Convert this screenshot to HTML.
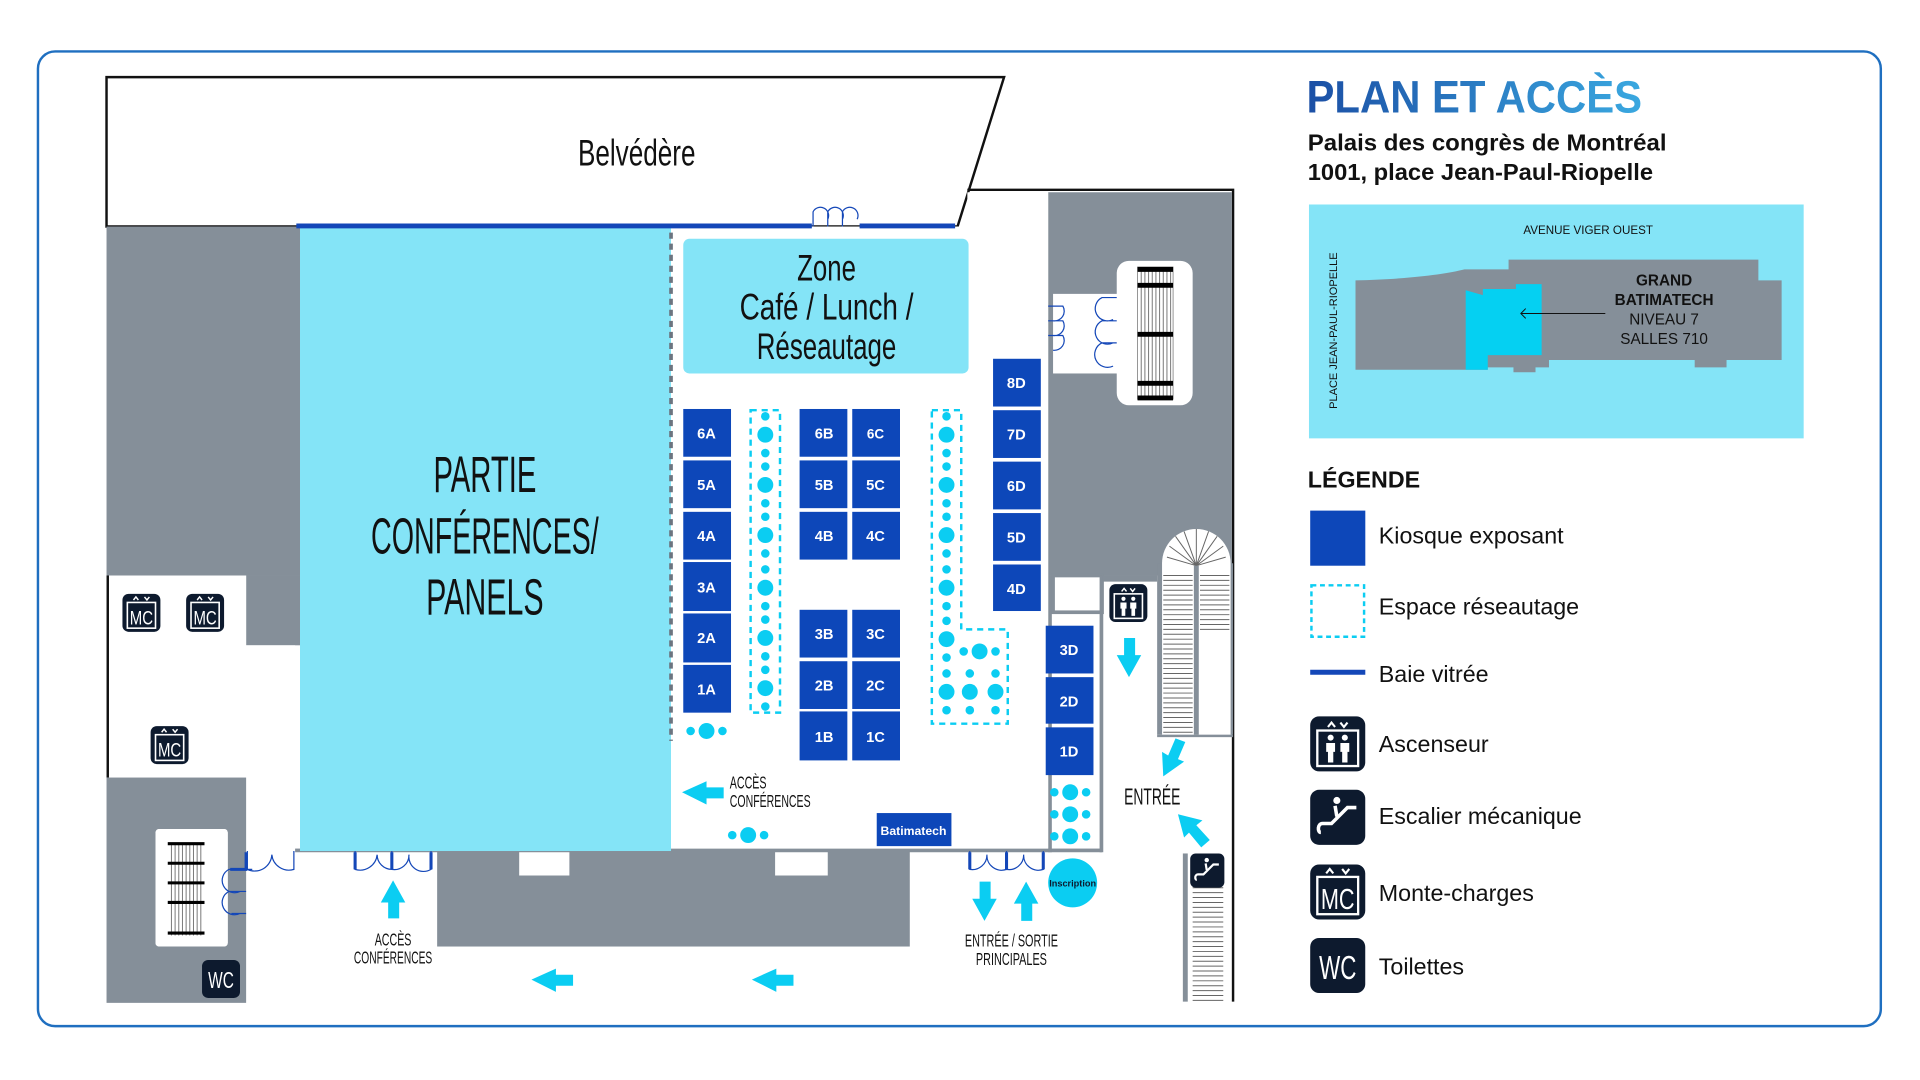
<!DOCTYPE html>
<html><head><meta charset="utf-8"><style>
html,body{margin:0;padding:0;background:#fff;}
svg{display:block;}
.c{font-family:"Liberation Sans Narrow","Liberation Sans",sans-serif;fill:#111;}
.b{font-family:"Liberation Sans",sans-serif;font-weight:bold;fill:#fff;text-anchor:middle;}
.t{font-family:"Liberation Sans",sans-serif;}
</style></head><body>
<svg width="1920" height="1080" viewBox="0 0 1568 882" xmlns="http://www.w3.org/2000/svg">
<defs>
<linearGradient id="tg" x1="0" x2="1"><stop offset="0" stop-color="#1b4fa5"/><stop offset="1" stop-color="#3aa8e0"/></linearGradient>
<g id="mc"><rect x="0" y="0" width="31" height="31" rx="5" fill="#0d1a2e"/><rect x="4" y="7" width="23" height="21" fill="none" stroke="#fff" stroke-width="1.3"/><path d="M9 5 L11 2.5 L13 5 M18 2.5 L20 5 L22 2.5" stroke="#fff" stroke-width="1.2" fill="none"/><text x="15.5" y="25" class="c" font-size="16" fill="#fff" style="fill:#fff" text-anchor="middle" textLength="19" lengthAdjust="spacingAndGlyphs">MC</text></g>
<g id="el"><rect x="0" y="0" width="31" height="31" rx="5" fill="#0d1a2e"/><rect x="4" y="8" width="23" height="20" fill="none" stroke="#fff" stroke-width="1.3"/><path d="M10 6 L12 3.5 L14 6 M17 3.5 L19 6 L21 3.5" stroke="#fff" stroke-width="1.2" fill="none"/><circle cx="11.5" cy="12" r="1.7" fill="#fff"/><circle cx="19.5" cy="12" r="1.7" fill="#fff"/><path d="M9 15h5v5h-1v6h-3v-6h-1z M17 15h5v5h-1v6h-3v-6h-1z" fill="#fff"/></g>
<g id="es"><rect x="0" y="0" width="31" height="31" rx="5" fill="#0d1a2e"/><path d="M6 24 C4 24 4 19 7 19 L12 19 L21 10 L26 10" stroke="#fff" stroke-width="2" fill="none"/><circle cx="15" cy="6" r="2" fill="#fff"/><path d="M14 9 L15 15" stroke="#fff" stroke-width="2"/></g>
<g id="wc"><rect x="0" y="0" width="31" height="31" rx="5" fill="#0d1a2e"/><text x="15.5" y="23" class="c" font-size="19" style="fill:#fff" text-anchor="middle" textLength="21" lengthAdjust="spacingAndGlyphs">WC</text></g>
<g id="dg"><circle cx="0" cy="-15" r="3.5" fill="#0bcdf2"/><circle cx="0" cy="0" r="6.5" fill="#0bcdf2"/><circle cx="0" cy="15" r="3.5" fill="#0bcdf2"/></g>
<g id="dh"><circle cx="-13" cy="0" r="3.5" fill="#0bcdf2"/><circle cx="0" cy="0" r="6.5" fill="#0bcdf2"/><circle cx="13" cy="0" r="3.5" fill="#0bcdf2"/></g>
</defs>

<!-- outer frame -->
<rect x="31" y="42" width="1505" height="796" rx="14" fill="#fff" stroke="#1f6fc0" stroke-width="2"/>

<!-- Belvedere -->
<polygon points="87,63 820,63 782,185 87,185" fill="#fff" stroke="#111" stroke-width="2"/>
<polyline points="790,155 1007,155 1007,818" fill="none" stroke="#111" stroke-width="2"/>
<text x="520" y="135" class="c" font-size="30" text-anchor="middle" textLength="96" lengthAdjust="spacingAndGlyphs">Belvédère</text>

<!-- grey areas -->
<rect x="87" y="185" width="158" height="285" fill="#858f99"/>
<rect x="201" y="470" width="44" height="57" fill="#858f99"/>
<rect x="87" y="470" width="114" height="165" fill="#fff"/>
<rect x="87" y="527" width="154" height="170" fill="#fff"/>
<line x1="88" y1="470" x2="88" y2="635" stroke="#111" stroke-width="2"/>
<rect x="87" y="635" width="114" height="184" fill="#858f99"/>
<rect x="127" y="677" width="59" height="96" rx="3" fill="#fff"/>
<rect x="357" y="695" width="386" height="78" fill="#858f99"/>
<rect x="424" y="695" width="41" height="20" fill="#fff"/>
<rect x="633" y="695" width="43" height="20" fill="#fff"/>
<rect x="241" y="693" width="659" height="3" fill="#858f99"/>
<rect x="856" y="157" width="150" height="313" fill="#858f99"/>
<rect x="860" y="470" width="40" height="30" fill="#fff" stroke="#858f99" stroke-width="3"/>
<rect x="898" y="470" width="3" height="226" fill="#858f99"/>
<rect x="856" y="470" width="3" height="226" fill="#858f99"/>
<rect x="900" y="470" width="45" height="5" fill="#858f99"/>
<rect x="790" y="157" width="66" height="28" fill="#fff"/>

<!-- cyan conference -->
<rect x="245" y="185" width="303" height="510" fill="#84e4f7"/>
<rect x="548" y="185" width="308" height="508" fill="#fff"/>
<line x1="548" y1="190" x2="548" y2="605" stroke="#6b7580" stroke-width="3" stroke-dasharray="5,4"/>
<line x1="242" y1="184.5" x2="663" y2="184.5" stroke="#1447b8" stroke-width="4"/>
<line x1="702" y1="184.5" x2="780" y2="184.5" stroke="#1447b8" stroke-width="4"/>
<path d="M664 185 v-12 a6 6 0 0 1 12 6 M676 185 v-12 a6 6 0 0 1 12 6 M688 185 v-12 a6 6 0 0 1 12 6" stroke="#1447b8" stroke-width="1" fill="none"/>
<text x="396" y="402" class="c" font-size="42" text-anchor="middle" textLength="84" lengthAdjust="spacingAndGlyphs">PARTIE</text>
<text x="396" y="452" class="c" font-size="42" text-anchor="middle" textLength="186" lengthAdjust="spacingAndGlyphs">CONFÉRENCES/</text>
<text x="396" y="502" class="c" font-size="42" text-anchor="middle" textLength="96" lengthAdjust="spacingAndGlyphs">PANELS</text>

<!-- Zone cafe -->
<rect x="558" y="195" width="233" height="110" rx="5" fill="#84e4f7"/>
<text x="675" y="229" class="c" font-size="30" text-anchor="middle" textLength="48" lengthAdjust="spacingAndGlyphs">Zone</text>
<text x="675" y="261" class="c" font-size="30" text-anchor="middle" textLength="142" lengthAdjust="spacingAndGlyphs">Café / Lunch /</text>
<text x="675" y="293" class="c" font-size="30" text-anchor="middle" textLength="114" lengthAdjust="spacingAndGlyphs">Réseautage</text>

<!-- right doors & escalator -->
<rect x="860" y="240" width="56" height="65" fill="#fff"/>
<rect x="912" y="213" width="62" height="118" rx="10" fill="#fff"/>
<g stroke="#1447b8" stroke-width="1" fill="none">
<path d="M856 250 h12 a8 8 0 0 1 -8 12 M856 262 h12 a8 8 0 0 1 -8 12 M856 274 h12 a8 8 0 0 1 -8 12"/>
<path d="M912 243 h-12 a9 9 0 0 0 9 18 M912 262 h-12 a9 9 0 0 0 9 18 M912 280 h-12 a9 9 0 0 0 9 19"/>
</g>
<g>
<rect x="929" y="218" width="29" height="108" fill="#fff" stroke="#555" stroke-width="0.5"/>
<path d="M932 218v108M935 218v108M938 218v108M941 218v108M944 218v108M947 218v108M950 218v108M953 218v108M956 218v108" stroke="#777" stroke-width="0.8"/>
<path d="M929 220h29M929 233h29M929 273h29M929 313h29M929 325h29" stroke="#000" stroke-width="4"/>
</g>
<rect x="127" y="677" width="59" height="96" rx="3" fill="#fff"/>
<g>
<rect x="137" y="688" width="30" height="76" fill="#fff"/>
<path d="M140 688v76M143 688v76M146 688v76M149 688v76M152 688v76M155 688v76M158 688v76M161 688v76M164 688v76" stroke="#777" stroke-width="0.8"/>
<path d="M137 689h30M137 705h30M137 721h30M137 737h30M137 762h30" stroke="#000" stroke-width="2.5"/>
</g>
<g stroke="#1447b8" stroke-width="1" fill="none">
<path d="M201 710 h-14 a9 9 0 0 0 9 18 M201 728 h-14 a9 9 0 0 0 9 18 M201 746 h-12"/>
<path d="M202 695 v15 h4 M202 710 a14 14 0 0 0 20 -12 a14 14 0 0 0 18 12 v-15"/>
<path d="M290 695 v15 a14 14 0 0 0 18 -12 a12 12 0 0 0 12 12 v-15 M320 710 a12 12 0 0 0 14 -12 a12 12 0 0 0 18 12 v-15"/>
<path d="M792 695 v15 a12 12 0 0 0 14 -12 a12 12 0 0 0 16 12 v-15 M822 710 a12 12 0 0 0 14 -12 a12 12 0 0 0 16 12 v-15"/>
</g>
<path d="M201 696v14M202 710h-14M290 696v14M320 696v14M352 696v14M792 696v14M822 696v14M852 696v14" stroke="#1447b8" stroke-width="2.5"/>

<!-- right escalators -->
<rect x="945" y="460" width="62" height="140" fill="#858f99"/>
<path d="M949 600 V460 a28 28 0 0 1 56 0 V600" fill="#fff"/>
<g stroke="#666" stroke-width="0.8">
<path d="M950 470h24M950 474h24M950 478h24M950 482h24M950 486h24M950 490h24M950 494h24M950 498h24M950 502h24M950 506h24M950 510h24M950 514h24M950 518h24M950 522h24M950 526h24M950 530h24M950 534h24M950 538h24M950 542h24M950 546h24M950 550h24M950 554h24M950 558h24M950 562h24M950 566h24M950 570h24M950 574h24M950 578h24M950 582h24M950 586h24M950 590h24M950 594h24M950 598h24"/>
<path d="M980 470h24M980 474h24M980 478h24M980 482h24M980 486h24M980 490h24M980 494h24M980 498h24M980 502h24M980 506h24M980 510h24M980 514h24"/>
<path d="M977 462 L953 455 M977 462 L955 446 M977 462 L960 438 M977 462 L967 434 M977 462 L977 432 M977 462 L987 434 M977 462 L994 438 M977 462 L999 446 M977 462 L1001 455"/>
</g>
<rect x="975" y="462" width="4" height="138" fill="#858f99"/>
<rect x="945" y="600" width="62" height="2" fill="#858f99"/>
<rect x="966" y="697" width="4" height="121" fill="#858f99"/>
<g stroke="#666" stroke-width="0.8"><path d="M974 725h25M974 729h25M974 733h25M974 737h25M974 741h25M974 745h25M974 749h25M974 753h25M974 757h25M974 761h25M974 765h25M974 769h25M974 773h25M974 777h25M974 781h25M974 785h25M974 789h25M974 793h25M974 797h25M974 801h25M974 805h25M974 809h25M974 813h25M974 817h25"/></g>

<!-- booths -->
<g fill="#0d47b9">
<rect x="558" y="334" width="39" height="39"/><rect x="558" y="376" width="39" height="39"/><rect x="558" y="418" width="39" height="39"/><rect x="558" y="459" width="39" height="40"/><rect x="558" y="501" width="39" height="40"/><rect x="558" y="543" width="39" height="39"/>
<rect x="653" y="334" width="39" height="39"/><rect x="696" y="334" width="39" height="39"/>
<rect x="653" y="376" width="39" height="39"/><rect x="696" y="376" width="39" height="39"/>
<rect x="653" y="418" width="39" height="39"/><rect x="696" y="418" width="39" height="39"/>
<rect x="653" y="498" width="39" height="39"/><rect x="696" y="498" width="39" height="39"/>
<rect x="653" y="540" width="39" height="39"/><rect x="696" y="540" width="39" height="39"/>
<rect x="653" y="581" width="39" height="40"/><rect x="696" y="581" width="39" height="40"/>
<rect x="811" y="293" width="39" height="39"/><rect x="811" y="335" width="39" height="39"/><rect x="811" y="377" width="39" height="39"/><rect x="811" y="419" width="39" height="39"/><rect x="811" y="461" width="39" height="38"/>
<rect x="854" y="511" width="39" height="39"/><rect x="854" y="553" width="39" height="38"/><rect x="854" y="594" width="39" height="39"/>
<rect x="716" y="664" width="61" height="27"/>
</g>
<g class="b" font-size="12">
<text x="577" y="358">6A</text><text x="577" y="400">5A</text><text x="577" y="442">4A</text><text x="577" y="484">3A</text><text x="577" y="525">2A</text><text x="577" y="567">1A</text>
<text x="673" y="358">6B</text><text x="715" y="358" font-size="11">6C</text>
<text x="673" y="400">5B</text><text x="715" y="400">5C</text>
<text x="673" y="442">4B</text><text x="715" y="442">4C</text>
<text x="673" y="522">3B</text><text x="715" y="522">3C</text>
<text x="673" y="564">2B</text><text x="715" y="564">2C</text>
<text x="673" y="606">1B</text><text x="715" y="606">1C</text>
<text x="830" y="317">8D</text><text x="830" y="359">7D</text><text x="830" y="401">6D</text><text x="830" y="443">5D</text><text x="830" y="485">4D</text>
<text x="873" y="535">3D</text><text x="873" y="577">2D</text><text x="873" y="618">1D</text>
<text x="746" y="682" font-size="10">Batimatech</text>
</g>

<!-- networking strips -->
<rect x="613" y="335" width="24" height="247" fill="none" stroke="#0bcdf2" stroke-width="2" stroke-dasharray="5,4"/>
<polygon points="761,335 785,335 785,514 823,514 823,591 761,591" fill="none" stroke="#0bcdf2" stroke-width="2" stroke-dasharray="5,4"/>
<use href="#dg" x="625" y="355"/><use href="#dg" x="625" y="396"/><use href="#dg" x="625" y="437"/><use href="#dg" x="625" y="480"/><use href="#dg" x="625" y="521"/><use href="#dg" x="625" y="562"/>
<use href="#dg" x="773" y="355"/><use href="#dg" x="773" y="396"/><use href="#dg" x="773" y="437"/><use href="#dg" x="773" y="480"/><use href="#dg" x="773" y="522"/>
<use href="#dh" x="800" y="532"/>
<use href="#dg" x="773" y="565"/><use href="#dg" x="792" y="565"/><use href="#dg" x="813" y="565"/>
<use href="#dh" x="577" y="597"/><use href="#dh" x="611" y="682"/>
<use href="#dh" x="874" y="647"/><use href="#dh" x="874" y="665"/><use href="#dh" x="874" y="683"/>
<circle cx="876" cy="721" r="20" fill="#0bcdf2"/>
<text x="876" y="724" class="t" font-size="7.5" font-weight="bold" text-anchor="middle" fill="#0d1a2e">Inscription</text>

<!-- arrows -->
<g fill="#0bcdf2">
<polygon points="557,647 577,638 577,643 591,643 591,652 577,652 577,657"/>
<polygon points="434,800 454,791 454,796 468,796 468,805 454,805 454,810"/>
<polygon points="614,800 634,791 634,796 648,796 648,805 634,805 634,810"/>
<polygon points="321,719 311,737 317,737 317,750 326,750 326,737 331,737"/>
<polygon points="804,752 794,734 800,734 800,720 809,720 809,734 814,734"/>
<polygon points="838,720 828,738 834,738 834,752 843,752 843,738 848,738"/>
<polygon points="922,553 912,535 918,535 918,521 927,521 927,535 932,535"/>
<polygon points="950,634 949,614 954,617 960,603 968,606 962,620 967,622"/>
<polygon points="962,665 982,670 977,674 988,686 981,692 971,680 967,684"/>
</g>
<text x="596" y="644" class="c" font-size="14" textLength="30" lengthAdjust="spacingAndGlyphs">ACCÈS</text>
<text x="596" y="659" class="c" font-size="14" textLength="66" lengthAdjust="spacingAndGlyphs">CONFÉRENCES</text>
<text x="321" y="772" class="c" font-size="14" text-anchor="middle" textLength="30" lengthAdjust="spacingAndGlyphs">ACCÈS</text>
<text x="321" y="787" class="c" font-size="14" text-anchor="middle" textLength="64" lengthAdjust="spacingAndGlyphs">CONFÉRENCES</text>
<text x="826" y="773" class="c" font-size="14" text-anchor="middle" textLength="76" lengthAdjust="spacingAndGlyphs">ENTRÉE / SORTIE</text>
<text x="826" y="788" class="c" font-size="14" text-anchor="middle" textLength="58" lengthAdjust="spacingAndGlyphs">PRINCIPALES</text>
<text x="941" y="657" class="c" font-size="19" text-anchor="middle" textLength="46" lengthAdjust="spacingAndGlyphs">ENTRÉE</text>

<!-- icons on map -->
<use href="#mc" x="100" y="485"/><use href="#mc" x="152" y="485"/><use href="#mc" x="123" y="593"/>
<use href="#el" x="906" y="477"/>
<use href="#es" x="972" y="697" transform="translate(972,697) scale(0.9) translate(-972,-697)"/>
<use href="#wc" x="165" y="784"/>

<!-- right panel -->
<text x="1067" y="92" class="t" font-size="37" font-weight="bold" fill="url(#tg)" textLength="274" lengthAdjust="spacingAndGlyphs">PLAN ET ACCÈS</text>
<text x="1068" y="123" class="t" font-size="19" font-weight="bold" fill="#111" textLength="293" lengthAdjust="spacingAndGlyphs">Palais des congrès de Montréal</text>
<text x="1068" y="147" class="t" font-size="19" font-weight="bold" fill="#111" textLength="282" lengthAdjust="spacingAndGlyphs">1001, place Jean-Paul-Riopelle</text>
<rect x="1069" y="167" width="404" height="191" fill="#84e4f7"/>
<text x="1297" y="191" class="t" font-size="9.5" text-anchor="middle" fill="#111">AVENUE VIGER OUEST</text>
<text x="0" y="0" class="t" font-size="9" text-anchor="middle" fill="#111" transform="translate(1092,270) rotate(-90)">PLACE JEAN-PAUL-RIOPELLE</text>
<path d="M1107 229 C1150 228 1180 224 1196 220 L1232 220 L1232 212 L1436 212 L1436 229 L1455 229 L1455 294 L1410 294 L1410 300 L1384 300 L1384 294 L1265 294 L1265 300 L1254 300 L1254 304 L1236 304 L1236 300 L1215 300 L1215 302 L1107 302 Z" fill="#858f99"/>
<path d="M1197 237 L1211 241 L1211 236 L1238 236 L1238 232 L1259 232 L1259 290 L1215 290 L1215 302 L1197 302 Z" fill="#05d0f2"/>
<path d="M1311 256 L1242 256 M1246 252 L1242 256 L1246 260" stroke="#111" stroke-width="0.8" fill="none"/>
<g class="t" font-size="12.5" text-anchor="middle" fill="#111">
<text x="1359" y="233" font-weight="bold">GRAND</text>
<text x="1359" y="249" font-weight="bold">BATIMATECH</text>
<text x="1359" y="265">NIVEAU 7</text>
<text x="1359" y="281">SALLES 710</text>
</g>

<text x="1068" y="398" class="t" font-size="19" font-weight="bold" fill="#111">LÉGENDE</text>
<rect x="1070" y="417" width="45" height="45" fill="#0d47b9"/>
<rect x="1071" y="478" width="43" height="42" fill="none" stroke="#0bcdf2" stroke-width="2" stroke-dasharray="4,3"/>
<line x1="1070" y1="549" x2="1115" y2="549" stroke="#1447b8" stroke-width="4"/>
<use href="#el" transform="translate(1070,585) scale(1.45)"/>
<use href="#es" transform="translate(1070,645) scale(1.45)"/>
<use href="#mc" transform="translate(1070,706) scale(1.45)"/>
<use href="#wc" transform="translate(1070,766) scale(1.45)"/>
<g class="t" font-size="19" fill="#111">
<text x="1126" y="444">Kiosque exposant</text>
<text x="1126" y="502">Espace réseautage</text>
<text x="1126" y="557">Baie vitrée</text>
<text x="1126" y="614">Ascenseur</text>
<text x="1126" y="673">Escalier mécanique</text>
<text x="1126" y="736">Monte-charges</text>
<text x="1126" y="796">Toilettes</text>
</g>
</svg>
</body></html>
